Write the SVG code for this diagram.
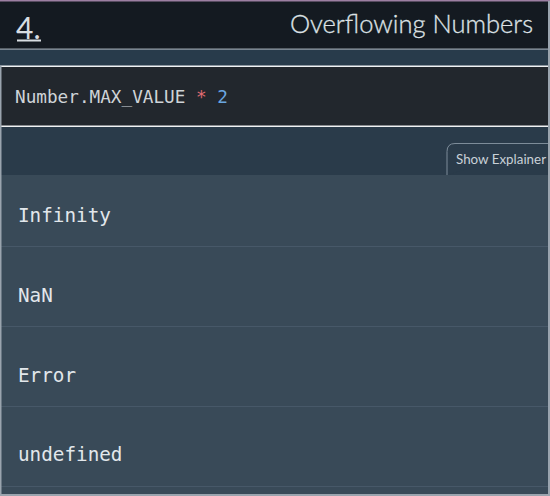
<svg xmlns="http://www.w3.org/2000/svg" width="550" height="496" viewBox="0 0 550 496">
<style>
.mono{font-family:"DejaVu Sans Mono","Liberation Mono",monospace;}
.ans{font-size:19.3px;fill:#e2e7eb;}
.div{stroke:#475868;stroke-width:1;}
.sans{font-family:Lato,"Open Sans","Liberation Sans",sans-serif;}
</style>
<rect x="0" y="0" width="550" height="496" fill="#394a58"/>
<g id="header">
<rect x="0" y="0" width="550" height="49" fill="#141a21"/>
<rect x="0" y="0" width="550" height="1.5" fill="#9c7fa2"/>
<text class="sans" x="16" y="39" font-size="30" font-weight="400" fill="#d8dde2">4.</text>
<rect x="17" y="39.5" width="24" height="2" fill="#d8dde2"/>
<text class="sans" x="533" y="33" font-size="25" font-weight="300" fill="#dce1e5" stroke="#dce1e5" stroke-width="0.3" text-anchor="end" textLength="243" lengthAdjust="spacingAndGlyphs">Overflowing Numbers</text>
</g>
<g id="band1">
<rect x="0" y="49" width="550" height="17" fill="#283b4b"/>
<rect x="0" y="48.5" width="550" height="1.2" fill="#9aa4ae"/>
<rect x="0" y="65.5" width="550" height="1.5" fill="#f0f2f4"/>
</g>
<g id="code">
<rect x="0" y="67" width="550" height="59" fill="#22272d"/>
<text class="mono" x="15" y="103" font-size="17.7" fill="#cfd4d8">Number.MAX_VALUE <tspan fill="#e06c72">*</tspan> <tspan fill="#6aa6e0">2</tspan></text>
<rect x="0" y="125.5" width="550" height="1.5" fill="#f0f2f4"/>
</g>
<g id="band2">
<rect x="0" y="127" width="550" height="48" fill="#2a3b4a"/>
</g>
<g id="tab">
<path d="M447 175 V151.5 Q447 143.5 455 143.5 H550" fill="#2a3b4a" stroke="#7d8c99" stroke-width="1"/>
<text class="sans" x="456" y="164" font-size="13" fill="#c9d1d8" textLength="90" lengthAdjust="spacingAndGlyphs">Show Explainer</text>
</g>
<g id="answers">
<rect x="0" y="175" width="550" height="321" fill="#394a58"/>
<g id="opt1"><text class="mono ans" x="18" y="222">Infinity</text></g>
<g id="opt2"><text class="mono ans" x="18" y="302">NaN</text></g>
<g id="opt3"><text class="mono ans" x="18" y="382">Error</text></g>
<g id="opt4"><text class="mono ans" x="18" y="461">undefined</text></g>
</g>
<g id="connectors">
<line class="div" x1="0" y1="246.5" x2="550" y2="246.5"/>
<line class="div" x1="0" y1="326.5" x2="550" y2="326.5"/>
<line class="div" x1="0" y1="406.5" x2="550" y2="406.5"/>
<line class="div" x1="0" y1="486.5" x2="550" y2="486.5"/>
</g>
<g id="frame">
<rect x="0" y="66" width="1.5" height="430" fill="#9aa4ae"/>
<rect x="548" y="1" width="2" height="495" fill="#9aa4ae"/>
<rect x="0" y="494" width="550" height="2" fill="#9aa4ae"/>
</g>
</svg>
